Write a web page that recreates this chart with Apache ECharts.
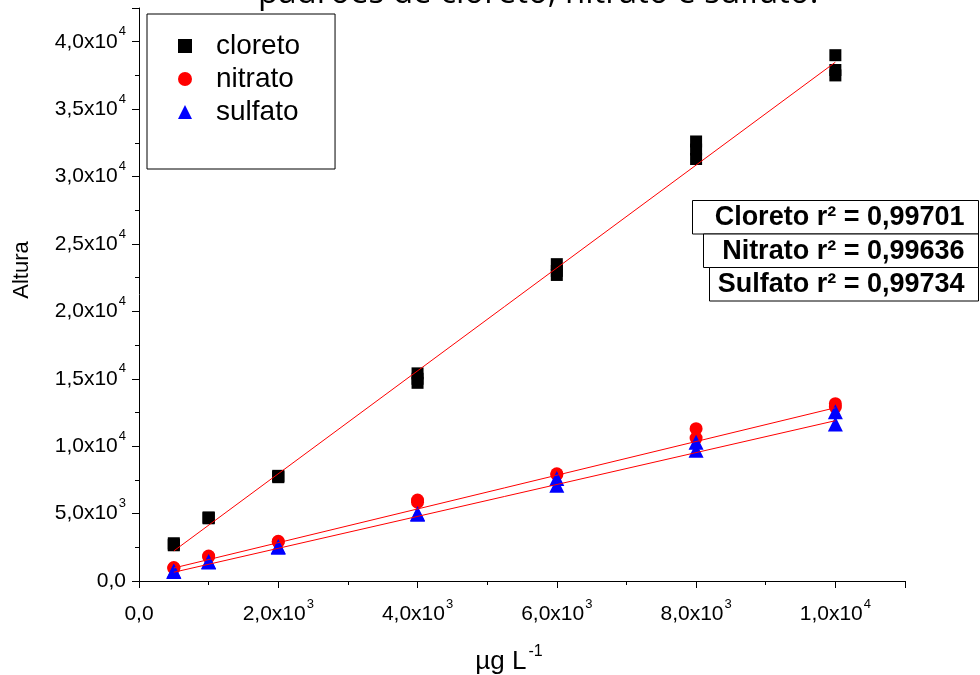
<!DOCTYPE html>
<html>
<head>
<meta charset="utf-8">
<script src="https://cdn.jsdelivr.net/npm/echarts@6/dist/echarts.min.js"></script>
<style>html,body{margin:0;padding:0;background:#fff}#c{width:980px;height:675px}</style>
</head>
<body>
<div id="c"></div>
<script>
// ---- data ----
const concentrations = [500, 1000, 2000, 4000, 6000, 8000, 10000];
const cloretoRep1 = [2800, 4700, 7800, 15400, 23500, 32600, 39000];
const cloretoRep2 = [2700, 4650, 7700, 15000, 23000, 32000, 37900];
const cloretoRep3 = [2650, 4700, 7750, 14700, 22700, 31300, 37500];
const nitratoRep1 = [1000, 1850, 2950, 6000, 7950, 11300, 13150];
const nitratoRep2 = [950, 1800, 2900, 5850, 7900, 10600, 12900];
const sulfatoRep1 = [750, 1450, 2550, 5000, 7600, 10300, 12550];
const sulfatoRep2 = [700, 1400, 2500, 4950, 7100, 9700, 11650];
const fitX = [500, 10000];
const cloretoFit = [2230, 38480];
const nitratoFit = [965, 12850];
const sulfatoFit = [650, 11890];
const seriesNames = ['cloreto', 'nitrato', 'sulfato'];
const r2Labels = ['Cloreto r\u00b2 = 0,99701', 'Nitrato r\u00b2 = 0,99636', 'Sulfato r\u00b2 = 0,99734'];
const yTickValues = [0, 5000, 10000, 15000, 20000, 25000, 30000, 35000, 40000];
const yTickMantissa = ['0,0', '5,0', '1,0', '1,5', '2,0', '2,5', '3,0', '3,5', '4,0'];
const yTickExp = ['', '3', '4', '4', '4', '4', '4', '4', '4'];
const xTickValues = [0, 2000, 4000, 6000, 8000, 10000];
const xTickMantissa = ['0,0', '2,0', '4,0', '6,0', '8,0', '1,0'];
const xTickExp = ['', '3', '3', '3', '3', '4'];
const titleText = 'padr\u00f5es de cloreto, nitrato e sulfato.';
const xAxisTitle = '\u00b5g L';
const xAxisTitleExp = '-1';
const yAxisTitle = 'Altura';

function pairs(xs, ys) { return xs.map((x, i) => [x, ys[i]]); }
function tickFmt(values, mant, exp) {
  return function (v) {
    const i = values.indexOf(v);
    if (i < 0) return '';
    if (!exp[i]) return '{b|' + mant[i] + '}';
    return '{b|' + mant[i] + 'x10}{s|' + exp[i] + '}';
  };
}
const FONT = 'Liberation Sans';
const richTick = {
  b: { fontFamily: FONT, fontSize: 21, color: '#000', lineHeight: 23 },
  s: { fontFamily: FONT, fontSize: 13, color: '#000', lineHeight: 13, verticalAlign: 'top', padding: [-5, 0, 0, 1] }
};

const chart = echarts.init(document.getElementById('c'), null, { renderer: 'canvas' });

function scatter(name, data, symbol, size, color) {
  return { type: 'scatter', name: name, data: data, symbol: symbol, symbolSize: size,
    itemStyle: { color: color, opacity: 1 }, z: 2, silent: true };
}
function fitLine(data) {
  return { type: 'line', data: data, symbol: 'none', lineStyle: { color: '#ff0000', width: 1 }, z: 5, silent: true };
}

chart.setOption({
  animation: false,
  backgroundColor: '#fff',
  grid: { left: 139, right: 75, top: 8, bottom: 94, containLabel: false },
  legend: {
    data: seriesNames.map((n, i) => ({ name: n, icon: ['rect', 'circle', 'triangle'][i] })),
    orient: 'vertical', left: 147, top: 14,
    itemWidth: 14, itemHeight: 14, itemGap: 5,
    padding: [18, 35, 43, 31],
    borderColor: '#000', borderWidth: 1,
    textStyle: { fontFamily: FONT, fontSize: 28, color: '#000', lineHeight: 28, padding: [0, 0, 0, 19] },
    selectedMode: false
  },
  xAxis: {
    type: 'value', min: 0, max: 11000, interval: 2000,
    axisLine: { lineStyle: { color: '#000', width: 1 } },
    axisTick: { show: true, length: 7, lineStyle: { color: '#000' } },
    minorTick: { show: true, splitNumber: 2, length: 4, lineStyle: { color: '#000' } },
    splitLine: { show: false },
    axisLabel: { formatter: tickFmt(xTickValues, xTickMantissa, xTickExp), rich: richTick, margin: 22, showMaxLabel: false }
  },
  yAxis: {
    type: 'value', min: 0, max: 42500, interval: 5000,
    axisLine: { lineStyle: { color: '#000', width: 1 } },
    axisTick: { show: true, length: 7, lineStyle: { color: '#000' } },
    minorTick: { show: true, splitNumber: 2, length: 4, lineStyle: { color: '#000' } },
    splitLine: { show: false },
    axisLabel: { formatter: tickFmt(yTickValues, yTickMantissa, yTickExp), rich: richTick, margin: 13, showMaxLabel: false }
  },
  graphic: [
    { type: 'text', x: 258, y: -23, z: 10,
      style: { text: titleText, font: '33px "Open Sans"', fill: '#000', verticalAlign: 'top' } },
    { type: 'text', x: 22, y: 270, rotation: Math.PI / 2, z: 10,
      style: { text: yAxisTitle, font: '22px "Liberation Sans"', fill: '#000', align: 'center', verticalAlign: 'middle' } },
    { type: 'text', x: 509, y: 662, z: 10,
      style: { text: '{b|' + xAxisTitle + '}{s|' + xAxisTitleExp + '}', align: 'center', verticalAlign: 'middle',
        rich: {
          b: { fontFamily: FONT, fontSize: 26, fill: '#000', lineHeight: 28 },
          s: { fontFamily: FONT, fontSize: 16, fill: '#000', lineHeight: 16, verticalAlign: 'top', padding: [-4, 0, 0, 2] }
        } } }
  ].concat(r2Labels.map((t, i) => ({
    type: 'group', left: [692, 703, 709][i], top: 200 + i * 33.5, z: 10,
    children: [
      { type: 'rect', shape: { x: 0, y: 0, width: [286, 275, 269][i], height: 33.5 },
        style: { fill: '#fff', stroke: '#000', lineWidth: 1 } },
      { type: 'text', style: { text: t, x: [272, 261, 255][i], y: 17.5, align: 'right', verticalAlign: 'middle',
        font: 'bold 27px "Liberation Sans"', fill: '#000' } }
    ]
  }))),
  series: [
    scatter('cloreto', pairs(concentrations, cloretoRep1), 'rect', 12, '#000'),
    scatter('cloreto', pairs(concentrations, cloretoRep2), 'rect', 12, '#000'),
    scatter('cloreto', pairs(concentrations, cloretoRep3), 'rect', 12, '#000'),
    scatter('nitrato', pairs(concentrations, nitratoRep1), 'circle', 13, '#ff0000'),
    scatter('nitrato', pairs(concentrations, nitratoRep2), 'circle', 13, '#ff0000'),
    scatter('sulfato', pairs(concentrations, sulfatoRep1), 'triangle', 15, '#0000ff'),
    scatter('sulfato', pairs(concentrations, sulfatoRep2), 'triangle', 15, '#0000ff'),
    fitLine(pairs(fitX, cloretoFit)),
    fitLine(pairs(fitX, nitratoFit)),
    fitLine(pairs(fitX, sulfatoFit))
  ]
});
</script>
</body>
</html>
